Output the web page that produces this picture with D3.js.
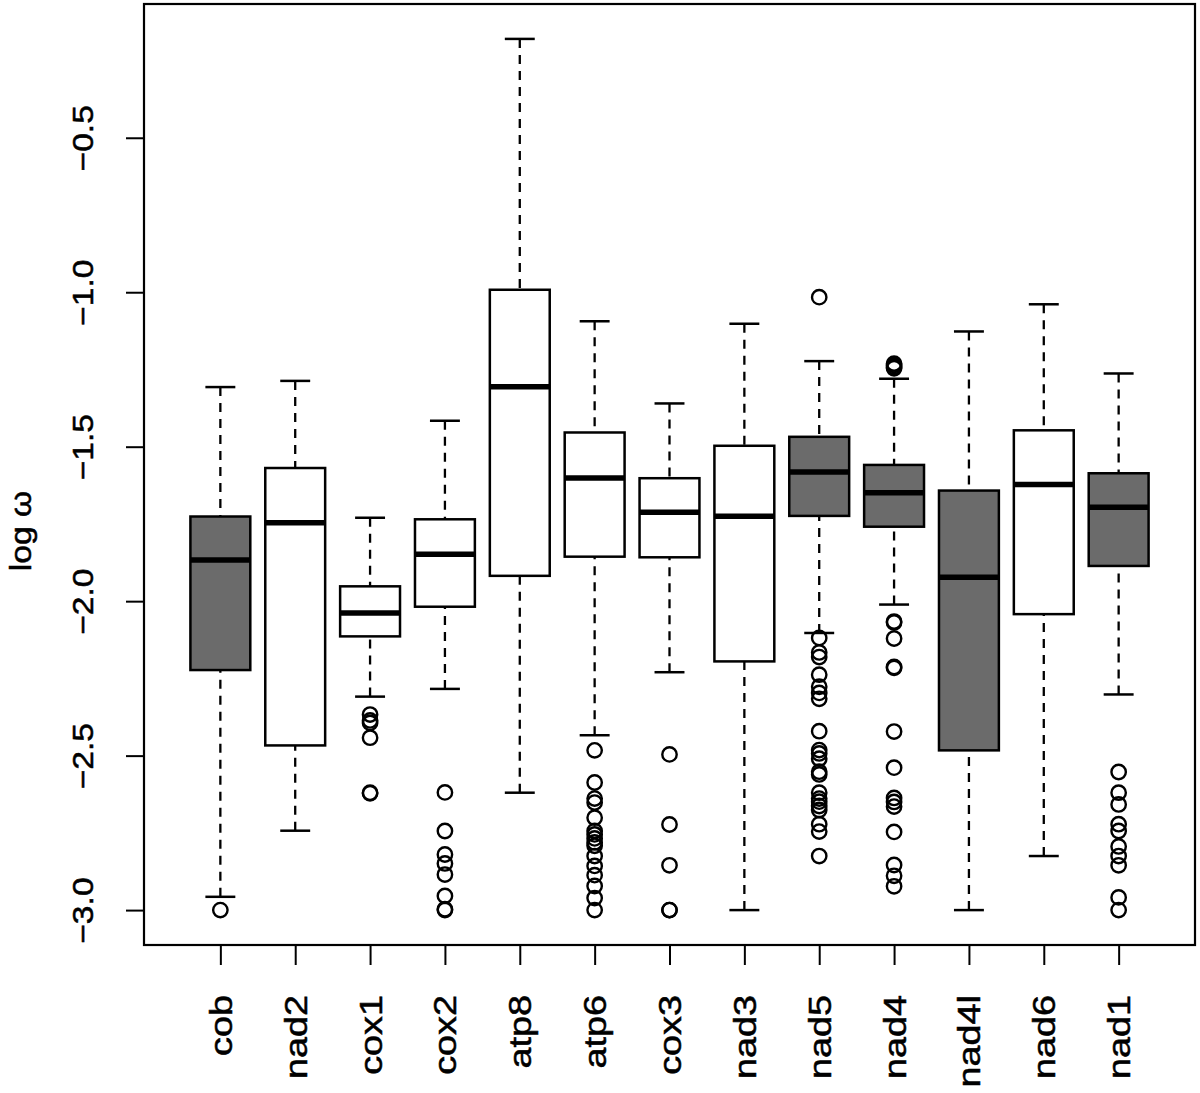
<!DOCTYPE html>
<html>
<head>
<meta charset="utf-8">
<script src="https://cdn.jsdelivr.net/npm/d3@7"></script>
<style>
  html, body { margin: 0; padding: 0; background: #fff; }
  svg { display: block; }
  text { font-family: "Liberation Sans", Arial, Helvetica, sans-serif; fill: #000; stroke: #000; stroke-width: 0.5; }
</style>
</head>
<body>
<svg id="chart" width="1200" height="1093"></svg>
<script>
// ---- data ----
const genes = ["cob","nad2","cox1","cox2","atp8","atp6","cox3","nad3","nad5","nad4","nad4l","nad6","nad1"];
const shaded = [true,false,false,false,false,false,false,false,true,true,true,false,true];
const whiskerLow  = [-2.957,-2.743,-2.309,-2.284,-2.620,-2.434,-2.230,-3.000,-2.103,-2.011,-3.000,-2.825,-2.302];
const q1          = [-2.223,-2.467,-2.114,-2.018,-1.918,-1.856,-1.858,-2.195,-1.724,-1.759,-2.483,-2.042,-1.886];
const medians     = [-1.867,-1.746,-2.038,-1.848,-1.306,-1.601,-1.712,-1.725,-1.582,-1.649,-1.923,-1.622,-1.696];
const q3          = [-1.726,-1.569,-1.952,-1.735,-0.992,-1.454,-1.602,-1.497,-1.468,-1.559,-1.642,-1.447,-1.586];
const whiskerHigh = [-1.307,-1.287,-1.730,-1.416,-0.180,-1.094,-1.360,-1.102,-1.223,-1.280,-1.127,-1.039,-1.263];
const outliers = [
  [-3.0],
  [],
  [-2.367,-2.386,-2.394,-2.442,-2.620,-2.622],
  [-2.619,-2.744,-2.820,-2.849,-2.885,-2.954,-2.997,-3.0],
  [],
  [-2.483,-2.587,-2.639,-2.652,-2.701,-2.744,-2.755,-2.768,-2.781,-2.792,-2.825,-2.857,-2.887,-2.922,-2.961,-3.0],
  [-2.496,-2.723,-2.855,-3.0,-3.0],
  [],
  [-1.016,-2.119,-2.166,-2.181,-2.238,-2.277,-2.297,-2.316,-2.421,-2.482,-2.493,-2.510,-2.552,-2.561,-2.620,-2.639,-2.649,-2.663,-2.676,-2.722,-2.746,-2.825],
  [-1.231,-1.236,-1.242,-1.246,-2.066,-2.069,-2.121,-2.213,-2.216,-2.422,-2.539,-2.637,-2.650,-2.665,-2.747,-2.854,-2.889,-2.923],
  [],
  [],
  [-2.553,-2.620,-2.658,-2.722,-2.744,-2.794,-2.825,-2.855,-2.959,-3.0]
];
const yTicks = [-3.0,-2.5,-2.0,-1.5,-1.0,-0.5];
const yTickLabels = ["\u22123.0","\u22122.5","\u22122.0","\u22121.5","\u22121.0","\u22120.5"];
const yTitle = "log \u03c9";

// ---- layout ----
const plot = {left: 144, right: 1195, top: 4, bottom: 945};
const svg = d3.select("#chart");

const x = d3.scaleLinear().domain([-0.02, 14.02]).range([plot.left, plot.right]);
const y = d3.scaleLinear().domain([-3.113, -0.067]).range([plot.bottom, plot.top]);

const unit = x(2) - x(1);
const boxHalf = unit * 0.4;
const stapleHalf = boxHalf * 0.5;

const g = svg.append("g");

genes.forEach((name, i) => {
  const cx = x(i + 1);
  const grp = g.append("g");
  // whiskers (dashed)
  grp.append("line")
    .attr("x1", cx).attr("x2", cx)
    .attr("y1", y(whiskerHigh[i])).attr("y2", y(q3[i]))
    .attr("stroke", "#000").attr("stroke-width", 2.3).attr("stroke-dasharray", "9,7");
  grp.append("line")
    .attr("x1", cx).attr("x2", cx)
    .attr("y1", y(whiskerLow[i])).attr("y2", y(q1[i]))
    .attr("stroke", "#000").attr("stroke-width", 2.3).attr("stroke-dasharray", "9,7");
  // staples
  [whiskerHigh[i], whiskerLow[i]].forEach(v => {
    grp.append("line")
      .attr("x1", cx - stapleHalf).attr("x2", cx + stapleHalf)
      .attr("y1", y(v)).attr("y2", y(v))
      .attr("stroke", "#000").attr("stroke-width", 2.5);
  });
  // box
  grp.append("rect")
    .attr("x", cx - boxHalf).attr("width", boxHalf * 2)
    .attr("y", y(q3[i])).attr("height", y(q1[i]) - y(q3[i]))
    .attr("fill", shaded[i] ? "#6b6b6b" : "#ffffff")
    .attr("stroke", "#000").attr("stroke-width", 2.5);
  // median
  grp.append("line")
    .attr("x1", cx - boxHalf).attr("x2", cx + boxHalf)
    .attr("y1", y(medians[i])).attr("y2", y(medians[i]))
    .attr("stroke", "#000").attr("stroke-width", 5.5);
  // outliers
  grp.selectAll("circle").data(outliers[i]).enter().append("circle")
    .attr("cx", cx).attr("cy", d => y(d)).attr("r", 7.2)
    .attr("fill", "none").attr("stroke", "#000").attr("stroke-width", 2.4);
});

// frame
svg.append("rect")
  .attr("x", plot.left).attr("y", plot.top)
  .attr("width", plot.right - plot.left).attr("height", plot.bottom - plot.top)
  .attr("fill", "none").attr("stroke", "#000").attr("stroke-width", 2.2);

// y axis
const yAxis = d3.axisLeft(y).tickValues(yTicks).tickSize(18).tickFormat((d, i) => yTickLabels[i]);
const ya = svg.append("g").attr("transform", `translate(${plot.left},0)`).call(yAxis);
ya.select(".domain").remove();
ya.selectAll(".tick line").attr("stroke", "#000").attr("stroke-width", 2);
ya.selectAll(".tick text").remove();
ya.selectAll(".tick").append("text")
  .attr("transform", "translate(-51,0) rotate(-90) scale(1.12,1)")
  .attr("text-anchor", "middle")
  .attr("font-size", 30)
  .text((d, i) => yTickLabels[i]);

// x axis
const xAxis = d3.axisBottom(x).tickValues(genes.map((d, i) => i + 1)).tickSize(20).tickFormat((d) => genes[d - 1]);
const xa = svg.append("g").attr("transform", `translate(0,${plot.bottom})`).call(xAxis);
xa.select(".domain").remove();
xa.selectAll(".tick line").attr("stroke", "#000").attr("stroke-width", 2);
xa.selectAll(".tick text").remove();
xa.selectAll(".tick").append("text")
  .attr("transform", "translate(11,50) rotate(-90) scale(1.22,1)")
  .attr("text-anchor", "end")
  .attr("font-size", 31)
  .text(d => genes[d - 1]);

// y title
svg.append("text")
  .attr("transform", "translate(31,531) rotate(-90) scale(1.12,1)")
  .attr("text-anchor", "middle")
  .attr("font-size", 30)
  .text(yTitle);
</script>
</body>
</html>
